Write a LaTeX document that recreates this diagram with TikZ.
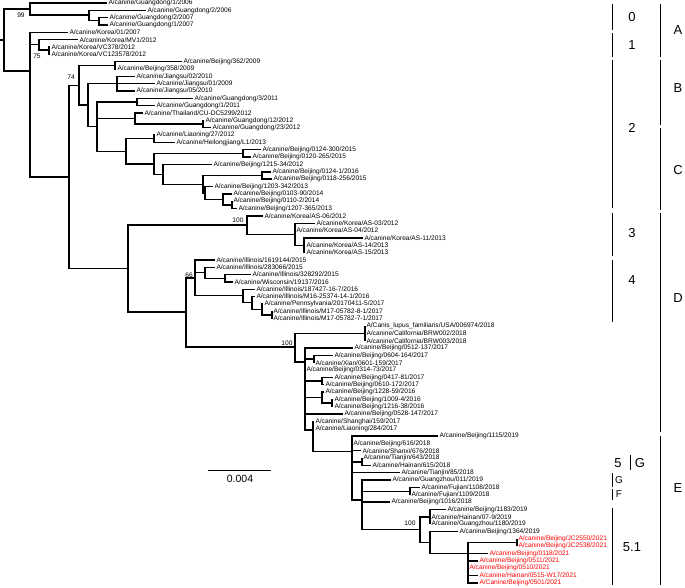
\documentclass[tikz,border=0pt]{standalone}
\usepackage{fontspec}
\setmainfont{Liberation Sans}
\newcommand\tp[4]{\node[tip] (#1) at (#3,{3+(#2-1)*7.34}) {#4};}
\newcommand\rtp[4]{\node[tip,text=red] (#1) at (#3,{3+(#2-1)*7.34}) {#4};}
\newcommand\lk[2]{\draw[br] (#1) |- (#2);}
\begin{document}
\begin{tikzpicture}[x=1pt,y=-1pt,
  br/.style={line width=1.4pt},
  tip/.style={anchor=west, inner xsep=1.3pt, inner ysep=0pt, font=\fontsize{6.6}{7}\selectfont},
  bs/.style={font=\fontsize{6.6}{7}\selectfont, inner sep=0pt},
  cl/.style={font=\fontsize{13}{14}\selectfont, inner sep=0pt},
  bar/.style={line width=0.8pt}]
\useasboundingbox (0,0) rectangle (685,588);
% ---------- internal nodes ----------
\coordinate (stub) at (0,40);
\coordinate (R0) at (4,40);
\coordinate (Ng) at (30,9.1);
\coordinate (Ng2) at (89,15.2);
\coordinate (Ng3) at (99,20.7);
\coordinate (Nk) at (30,71);
\coordinate (Nk2) at (39,44.5);
\coordinate (Nk3) at (49,50);
\coordinate (R2) at (69,177);
\coordinate (N79) at (79,85.3);
\coordinate (N9) at (115,65.4);
\coordinate (N88) at (88,105.2);
\coordinate (NJ) at (117,83.7);
\coordinate (N97) at (97,126.7);
\coordinate (NG11) at (137,102.1);
\coordinate (NT) at (135,118.6);
\coordinate (N1718) at (203,124.1);
\coordinate (Np) at (126,151.4);
\coordinate (N1920) at (154,138.8);
\coordinate (N153) at (154,164);
\coordinate (N2122) at (243,153.5);
\coordinate (N163) at (163,174.4);
\coordinate (Na) at (203,184.3);
\coordinate (N262) at (262,175.5);
\coordinate (Nb) at (205,193);
\coordinate (Nc) at (223,199.4);
\coordinate (Nd) at (232,204.9);
\coordinate (N128) at (128,268.5);
\coordinate (N3) at (247,225);
\coordinate (Nas2) at (295,234.2);
\coordinate (Nas3) at (304,245.3);
\coordinate (P) at (186,312);
\coordinate (N4) at (195,277.8);
\coordinate (N4b) at (205,272.7);
\coordinate (N3839) at (225,278.3);
\coordinate (N4c) at (243,295.7);
\coordinate (N4d) at (252,302.7);
\coordinate (N4e) at (262,309.5);
\coordinate (N4f) at (272,315);
\coordinate (N5) at (295,347);
\coordinate (N45) at (365,333.3);
\coordinate (N5c) at (305,362);
\coordinate (N4950) at (314,359);
\coordinate (N5253) at (322,381);
\coordinate (N5456) at (322,397.6);
\coordinate (N5556) at (332,403.1);
\coordinate (Nsh) at (313,430);
\coordinate (NE) at (352,451.7);
\coordinate (N6364) at (362,461.8);
\coordinate (NF) at (362,500);
\coordinate (N6768) at (410,491.2);
\coordinate (N51) at (420,529.7);
\coordinate (N7072) at (430,516.9);
\coordinate (Ny) at (430,542.6);
\coordinate (N2021) at (468,553.6);
\coordinate (N7475) at (517,542.6);
% ---------- tips ----------
\tp{t1}{1}{107}{A/canine/Guangdong/1/2006}
\tp{t2}{2}{146}{A/canine/Guangdong/2/2006}
\tp{t3}{3}{108}{A/canine/Guangdong/2/2007}
\tp{t4}{4}{108}{A/canine/Guangdong/1/2007}
\tp{t5}{5}{68}{A/canine/Korea/01/2007}
\tp{t6}{6}{78}{A/canine/Korea/MV1/2012}
\tp{t7}{7}{50}{A/canine/Korea/VC378/2012}
\tp{t8}{8}{50}{A/canine/Korea/VC123578/2012}
\tp{t9}{9}{182}{A/canine/Beijing/362/2009}
\tp{t10}{10}{116}{A/canine/Beijing/358/2009}
\tp{t11}{11}{135}{A/canine/Jiangsu/02/2010}
\tp{t12}{12}{155}{A/canine/Jiangsu/01/2009}
\tp{t13}{13}{135}{A/canine/Jiangsu/05/2010}
\tp{t14}{14}{193}{A/canine/Guangdong/3/2011}
\tp{t15}{15}{155}{A/canine/Guangdong/1/2011}
\tp{t16}{16}{143}{A/canine/Thailand/CU-DC5299/2012}
\tp{t17}{17}{204}{A/canine/Guangdong/12/2012}
\tp{t18}{18}{211}{A/canine/Guangdong/23/2012}
\tp{t19}{19}{155}{A/canine/Liaoning/27/2012}
\tp{t20}{20}{175}{A/canine/Heilongjiang/L1/2013}
\tp{t21}{21}{261}{A/canine/Beijing/0124-300/2015}
\tp{t22}{22}{251}{A/canine/Beijing/0120-265/2015}
\tp{t23}{23}{212}{A/canine/Beijing/1215-34/2012}
\tp{t24}{24}{271}{A/canine/Beijing/0124-1/2016}
\tp{t25}{25}{272}{A/canine/Beijing/0118-256/2015}
\tp{t26}{26}{213}{A/canine/Beijing/1203-342/2013}
\tp{t27}{27}{232}{A/canine/Beijing/0103-90/2014}
\tp{t28}{28}{232}{A/canine/Beijing/0110-2/2014}
\tp{t29}{29}{237}{A/canine/Beijing/1207-365/2013}
\tp{t30}{30}{263}{A/canine/Korea/AS-06/2012}
\tp{t31}{31}{315}{A/canine/Korea/AS-03/2012}
\tp{t32}{32}{295}{A/canine/Korea/AS-04/2012}
\tp{t33}{33}{363}{A/canine/Korea/AS-11/2013}
\tp{t34}{34}{305}{A/canine/Korea/AS-14/2013}
\tp{t35}{35}{305}{A/canine/Korea/AS-15/2013}
\tp{t36}{36}{215}{A/canine/Illinois/1619144/2015}
\tp{t37}{37}{215}{A/canine/Illinois/283066/2015}
\tp{t38}{38}{251}{A/canine/Illinois/328292/2015}
\tp{t39}{39}{233}{A/canine/Wisconsin/19137/2016}
\tp{t40}{40}{255}{A/canine/Illinois/187427-16-7/2016}
\tp{t41}{41}{255}{A/canine/Illinois/M16-25374-14-1/2016}
\tp{t42}{42}{263}{A/canine/Pennsylvania/20170411-5/2017}
\tp{t43}{43}{272}{A/canine/Illinois/M17-05782-8-1/2017}
\tp{t44}{44}{272}{A/canine/Illinois/M17-05782-7-1/2017}
\tp{t45}{45}{365}{A/Canis\_lupus\_familiaris/USA/006974/2018}
\tp{t46}{46}{365}{A/canine/California/BRW002/2018}
\tp{t47}{47}{365}{A/canine/California/BRW003/2018}
\tp{t48}{48}{353}{A/canine/Beijing/0512-137/2017}
\tp{t49}{49}{333}{A/canine/Beijing/0604-164/2017}
\tp{t50}{50}{314}{A/canine/Xian/0601-159/2017}
\tp{t51}{51}{305}{A/canine/Beijing/0314-73/2017}
\tp{t52}{52}{333}{A/canine/Beijing/0417-81/2017}
\tp{t53}{53}{324}{A/canine/Beijing/0610-172/2017}
\tp{t54}{54}{324}{A/canine/Beijing/1228-59/2016}
\tp{t55}{55}{333}{A/canine/Beijing/1009-4/2016}
\tp{t56}{56}{333}{A/canine/Beijing/1216-38/2016}
\tp{t57}{57}{343}{A/canine/Beijing/0528-147/2017}
\tp{t58}{58}{314}{A/canine/Shanghai/159/2017}
\tp{t59}{59}{314}{A/canine/Liaoning/284/2017}
\tp{t60}{60}{438}{A/canine/Beijing/1115/2019}
\tp{t61}{61}{352}{A/canine/Beijing/616/2018}
\tp{t62}{62}{361}{A/canine/Shanxi/676/2018}
\tp{t63}{63}{362}{A/canine/Tianjin/643/2018}
\tp{t64}{64}{371}{A/canine/Hainan/615/2018}
\tp{t65}{65}{400}{A/canine/Tianjin/85/2018}
\tp{t66}{66}{391}{A/canine/Guangzhou/011/2019}
\tp{t67}{67}{420}{A/canine/Fujian/1108/2018}
\tp{t68}{68}{410}{A/canine/Fujian/1109/2018}
\tp{t69}{69}{390}{A/canine/Beijing/1016/2018}
\tp{t70}{70}{446}{A/canine/Beijing/1183/2019}
\tp{t71}{71}{430}{A/canine/Hainan/07-9/2019}
\tp{t72}{72}{430}{A/canine/Guangzhou/1180/2019}
\tp{t73}{73}{458}{A/canine/Beijing/1364/2019}
\rtp{t74}{74}{517}{A/canine/Beijing/JC2550/2021}
\rtp{t75}{75}{517}{A/canine/Beijing/JC2538/2021}
\rtp{t76}{76}{488}{A/canine/Beijing/0118/2021}
\rtp{t77}{77}{478}{A/canine/Beijing/0511/2021}
\rtp{t78}{78}{468}{A/canine/Beijing/0510/2021}
\rtp{t79}{79}{478}{A/canine/Hainan/0515-W17/2021}
\rtp{t80}{80}{478}{A/Canine/Beijing/0501/2021}
% ---------- branches ----------
\draw[br] (stub) -- (R0);
\lk{R0}{Ng} \lk{R0}{Nk}
\lk{Ng}{t1.west} \lk{Ng}{Ng2} \lk{Ng2}{t2.west} \lk{Ng2}{Ng3} \lk{Ng3}{t3.west} \lk{Ng3}{t4.west}
\lk{Nk}{t5.west} \lk{Nk}{Nk2} \lk{Nk}{R2} \lk{Nk2}{t6.west} \lk{Nk2}{Nk3} \lk{Nk3}{t7.west} \lk{Nk3}{t8.west}
\lk{R2}{N79} \lk{R2}{N128}
\lk{N79}{N9} \lk{N79}{N88} \lk{N9}{t9.west} \lk{N9}{t10.west}
\lk{N88}{NJ} \lk{N88}{N97} \lk{NJ}{t11.west} \lk{NJ}{t12.west} \lk{NJ}{t13.west}
\lk{N97}{NG11} \lk{N97}{NT} \lk{N97}{Np}
\lk{NG11}{t14.west} \lk{NG11}{t15.west}
\lk{NT}{t16.west} \lk{NT}{N1718} \lk{N1718}{t17.west} \lk{N1718}{t18.west}
\lk{Np}{N1920} \lk{Np}{N153} \lk{N1920}{t19.west} \lk{N1920}{t20.west}
\lk{N153}{N2122} \lk{N153}{N163} \lk{N2122}{t21.west} \lk{N2122}{t22.west}
\lk{N163}{t23.west} \lk{N163}{Na} \lk{Na}{N262} \lk{Na}{Nb}
\lk{N262}{t24.west} \lk{N262}{t25.west}
\lk{Nb}{t26.west} \lk{Nb}{Nc} \lk{Nc}{t27.west} \lk{Nc}{Nd} \lk{Nd}{t28.west} \lk{Nd}{t29.west}
\lk{N128}{N3} \lk{N128}{P}
\lk{N3}{t30.west} \lk{N3}{Nas2} \lk{Nas2}{t31.west} \lk{Nas2}{t32.west} \lk{Nas2}{Nas3}
\lk{Nas3}{t33.west} \lk{Nas3}{t34.west} \lk{Nas3}{t35.west}
\lk{P}{N4} \lk{P}{N5}
\lk{N4}{t36.west} \lk{N4}{N4b} \lk{N4}{N4c} \lk{N4b}{t37.west} \lk{N4b}{N3839}
\lk{N3839}{t38.west} \lk{N3839}{t39.west}
\lk{N4c}{t40.west} \lk{N4c}{N4d} \lk{N4d}{t41.west} \lk{N4d}{N4e} \lk{N4e}{t42.west} \lk{N4e}{N4f}
\lk{N4f}{t43.west} \lk{N4f}{t44.west}
\lk{N5}{N45} \lk{N5}{N5c} \lk{N45}{t45.west} \lk{N45}{t46.west} \lk{N45}{t47.west}
\lk{N5c}{t48.west} \lk{N5c}{N4950} \lk{N5c}{t51.west} \lk{N5c}{N5253} \lk{N5c}{N5456} \lk{N5c}{t57.west} \lk{N5c}{Nsh}
\lk{N4950}{t49.west} \lk{N4950}{t50.west} \lk{N5253}{t52.west} \lk{N5253}{t53.west}
\lk{N5456}{t54.west} \lk{N5456}{N5556} \lk{N5556}{t55.west} \lk{N5556}{t56.west}
\lk{Nsh}{t58.west} \lk{Nsh}{t59.west} \lk{Nsh}{NE}
\lk{NE}{t60.west} \lk{NE}{t61.west} \lk{NE}{t62.west} \lk{NE}{N6364} \lk{NE}{t65.west} \lk{NE}{NF}
\lk{N6364}{t63.west} \lk{N6364}{t64.west}
\lk{NF}{t66.west} \lk{NF}{N6768} \lk{NF}{t69.west} \lk{NF}{N51}
\lk{N6768}{t67.west} \lk{N6768}{t68.west}
\lk{N51}{N7072} \lk{N51}{Ny} \lk{N7072}{t70.west} \lk{N7072}{t71.west} \lk{N7072}{t72.west}
\lk{Ny}{t73.west} \lk{Ny}{N2021}
\lk{N2021}{N7475} \lk{N2021}{t76.west} \lk{N2021}{t77.west} \lk{N2021}{t78.west} \lk{N2021}{t79.west} \lk{N2021}{t80.west}
\lk{N7475}{t74.west} \lk{N7475}{t75.west}
% ---------- support values ----------
\node[bs] (b99) at (21,15) {99};
\node[bs] (b75) at (37,56) {75};
\node[bs] (b74) at (71,77) {74};
\node[bs] (b100a) at (238,220) {100};
\node[bs] (b66) at (189,275) {66};
\node[bs] (b100b) at (287,343) {100};
\node[bs] (b100c) at (410,523) {100};
% ---------- scale bar ----------
\coordinate (sbL) at (208,470);
\coordinate (sbR) at (271,470);
\draw[line width=0.8pt] (sbL) -- (sbR);
\node[font=\fontsize{10.5}{12}\selectfont, inner sep=0pt] (sbt) at (240,479) {0.004};
% ---------- clade brackets ----------
\foreach \a/\b/\n in {4/30/c0, 33/57/c1, 60/208/c2, 213/256/c3, 260/322/c4, 508/585/c51, 473/487/cG, 489/500/cF}{
  \coordinate (\n a) at (612,\a); \coordinate (\n b) at (612,\b);
  \draw[bar] (\n a) -- (\n b);}
\node[cl] (l0) at (632,17) {0};
\node[cl] (l1) at (632,45) {1};
\node[cl] (l2) at (632,128) {2};
\node[cl] (l3) at (632,233) {3};
\node[cl] (l4) at (632,280) {4};
\node[cl] (l5) at (618,463) {5};
\node[cl] (l51) at (632,547) {5.1};
\node[font=\fontsize{10}{11}\selectfont, inner sep=0pt] (lG2) at (619,480) {G};
\node[font=\fontsize{10}{11}\selectfont, inner sep=0pt] (lF) at (619,494) {F};
\coordinate (gA) at (630,455); \coordinate (gB) at (630,470);
\draw[bar] (gA) -- (gB);
\node[cl] (lG1) at (640,463) {G};
\foreach \a/\b/\n in {4/57/A, 60/125/B, 128/210/C, 213/432/D, 436/585/E}{
  \coordinate (\n a) at (660,\a); \coordinate (\n b) at (660,\b);
  \draw[bar] (\n a) -- (\n b);}
\node[cl] (lA) at (678,30) {A};
\node[cl] (lB) at (678,88) {B};
\node[cl] (lC) at (678,170) {C};
\node[cl] (lD) at (678,298) {D};
\node[cl] (lE) at (678,488) {E};
\end{tikzpicture}
\end{document}
